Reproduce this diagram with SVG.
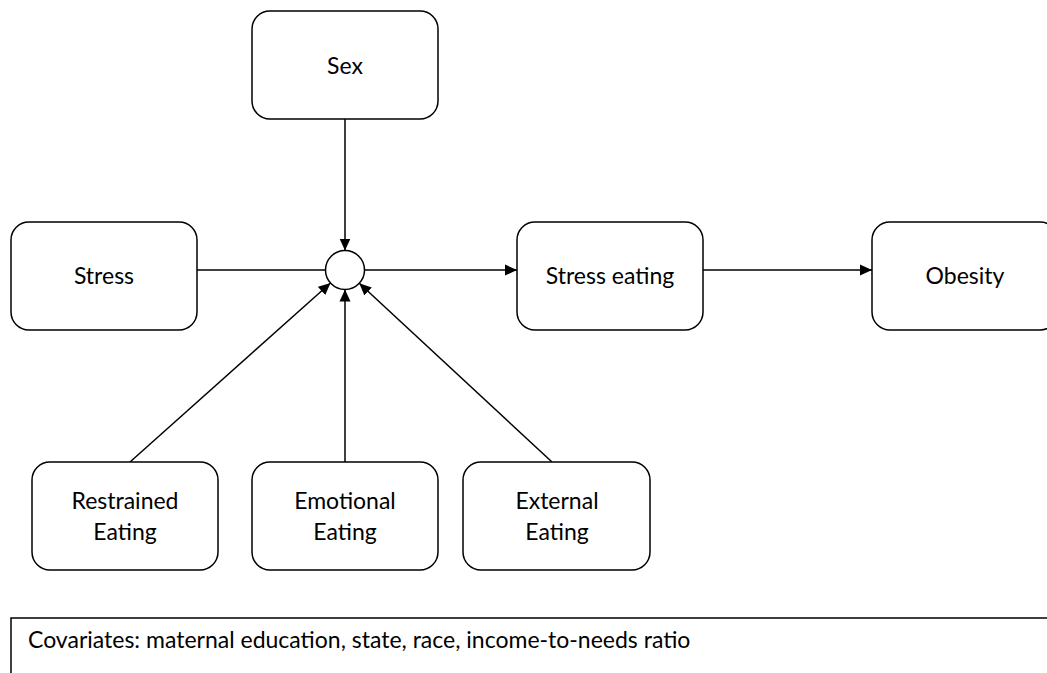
<svg xmlns="http://www.w3.org/2000/svg" width="1047" height="673" viewBox="0 0 1047 673">
<style>
.box{fill:#fff;stroke:#000;stroke-width:1.5}
.t{font-family:Lato,"Liberation Sans",sans-serif;font-size:23px;fill:#000;text-anchor:middle}
.edge{stroke:#000;stroke-width:1.5;fill:none}
</style>
<defs>
<marker id="ah" viewBox="0 0 12 12" refX="12" refY="6" markerWidth="12" markerHeight="12" markerUnits="userSpaceOnUse" orient="auto">
<path d="M0,0.5 L12,6 L0,11.5 Z" fill="#000"/>
</marker>
</defs>
<rect width="1047" height="673" fill="#fff"/>
<g id="connectors">
<line class="edge" x1="345" y1="119" x2="345" y2="250.5" marker-end="url(#ah)"/>
<line class="edge" x1="197" y1="270" x2="325.5" y2="270"/>
<line class="edge" x1="364.5" y1="270" x2="517" y2="270" marker-end="url(#ah)"/>
<line class="edge" x1="703" y1="270" x2="872" y2="270" marker-end="url(#ah)"/>
<line class="edge" x1="130" y1="462" x2="330.5" y2="283" marker-end="url(#ah)"/>
<line class="edge" x1="345" y1="462" x2="345" y2="289.5" marker-end="url(#ah)"/>
<line class="edge" x1="552" y1="462" x2="359.3" y2="283.3" marker-end="url(#ah)"/>
</g>
<g id="node-sex"><rect class="box" x="252" y="11" width="186" height="108" rx="18"/><text class="t" x="345" y="74">Sex</text></g>
<g id="node-stress"><rect class="box" x="11" y="222" width="186" height="108" rx="18"/><text class="t" x="104" y="284">Stress</text></g>
<g id="node-interaction"><circle class="box" cx="345" cy="270" r="19.5"/></g>
<g id="node-stress-eating"><rect class="box" x="517" y="222" width="186" height="108" rx="18"/><text class="t" x="610" y="284">Stress eating</text></g>
<g id="node-obesity"><rect class="box" x="872" y="222" width="186" height="108" rx="18"/><text class="t" x="965" y="284">Obesity</text></g>
<g id="node-restrained"><rect class="box" x="32" y="462" width="186" height="108" rx="18"/><text class="t" x="125" y="509">Restrained</text><text class="t" x="125" y="540">Eating</text></g>
<g id="node-emotional"><rect class="box" x="252" y="462" width="186" height="108" rx="18"/><text class="t" x="345" y="509">Emotional</text><text class="t" x="345" y="540">Eating</text></g>
<g id="node-external"><rect class="box" x="463" y="462" width="187" height="108" rx="18"/><text class="t" x="557" y="509">External</text><text class="t" x="557" y="540">Eating</text></g>
<g id="node-covariates"><rect class="box" x="11" y="618" width="1050" height="70"/><text x="28" y="648" style="font-family:Lato,'Liberation Sans',sans-serif;font-size:23px;fill:#000">Covariates: maternal education, state, race, income-to-needs ratio</text></g>
</svg>
